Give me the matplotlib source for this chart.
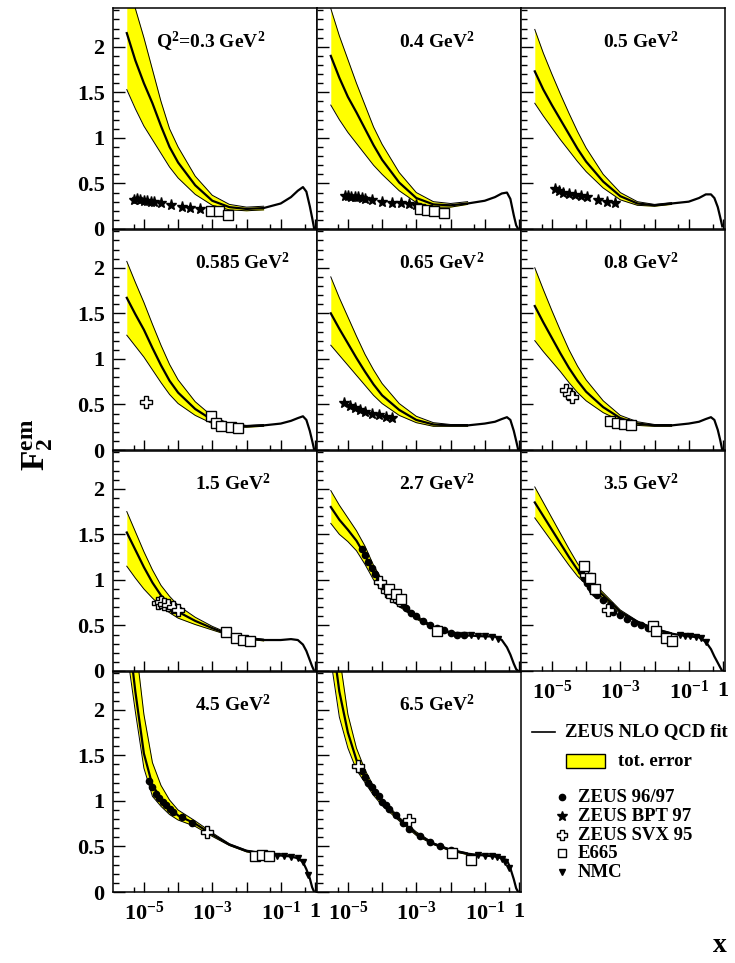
import numpy as np
import matplotlib
matplotlib.use("Agg")
import matplotlib.pyplot as plt
from matplotlib.ticker import FixedLocator, FixedFormatter, NullFormatter
from matplotlib.patches import Rectangle

plt.rcParams["font.family"] = "Liberation Serif"
plt.rcParams["font.weight"] = "bold"
plt.rcParams["mathtext.fontset"] = "custom"
plt.rcParams["mathtext.rm"] = "Liberation Serif:bold"
plt.rcParams["mathtext.it"] = "Liberation Serif:bold"
plt.rcParams["mathtext.bf"] = "Liberation Serif:bold"

# ----------------------------- DATA -----------------------------
Q2 = ["0.3", "0.4", "0.5", "0.585", "0.65", "0.8", "1.5", "2.7", "3.5", "4.5", "6.5"]

# NLO QCD fit, log10(x) nodes
FIT_LOGX = [-5.5, -5.25, -5.0, -4.75, -4.5, -4.25, -4.0, -3.5, -3.0, -2.5,
            -2.0, -1.5, -1.0, -0.7, -0.5, -0.35, -0.25, -0.15, -0.08, -0.02]
FIT = {
    "0.3":   [2.15, 1.85, 1.60, 1.38, 1.13, 0.90, 0.73, 0.48, 0.31, 0.24, 0.22, 0.23, 0.28, 0.35, 0.42, 0.46, 0.41, 0.25, 0.12, 0.0],
    "0.4":   [1.90, 1.66, 1.45, 1.28, 1.10, 0.92, 0.76, 0.51, 0.34, 0.27, 0.26, 0.28, 0.31, 0.35, 0.39, 0.40, 0.33, 0.15, 0.04, 0.0],
    "0.5":   [1.73, 1.53, 1.36, 1.20, 1.04, 0.88, 0.74, 0.52, 0.36, 0.28, 0.26, 0.28, 0.30, 0.34, 0.38, 0.38, 0.34, 0.24, 0.13, 0.03],
    "0.585": [1.67, 1.49, 1.32, 1.12, 0.93, 0.76, 0.63, 0.45, 0.33, 0.27, 0.26, 0.27, 0.29, 0.32, 0.35, 0.37, 0.33, 0.21, 0.10, 0.0],
    "0.65":  [1.50, 1.33, 1.17, 1.01, 0.86, 0.72, 0.60, 0.44, 0.33, 0.28, 0.27, 0.27, 0.29, 0.31, 0.34, 0.36, 0.33, 0.21, 0.10, 0.0],
    "0.8":   [1.58, 1.40, 1.23, 1.06, 0.90, 0.76, 0.64, 0.47, 0.35, 0.29, 0.27, 0.27, 0.29, 0.31, 0.34, 0.36, 0.33, 0.22, 0.11, 0.0],
    "1.5":   [1.52, 1.33, 1.14, 0.97, 0.83, 0.73, 0.65, 0.55, 0.47, 0.40, 0.36, 0.34, 0.34, 0.35, 0.34, 0.29, 0.22, 0.12, 0.05, 0.0],
    "2.7":   [1.80, 1.66, 1.55, 1.43, 1.27, 1.08, 0.94, 0.74, 0.59, 0.48, 0.42, 0.39, 0.38, 0.38, 0.34, 0.26, 0.18, 0.08, 0.02, 0.0],
    "3.5":   [1.85, 1.70, 1.55, 1.40, 1.25, 1.11, 1.00, 0.83, 0.65, 0.54, 0.46, 0.41, 0.38, 0.37, 0.32, 0.24, 0.16, 0.09, 0.04, 0.0],
    "4.5":   [3.00, 2.20, 1.52, 1.17, 1.03, 0.92, 0.84, 0.75, 0.63, 0.52, 0.45, 0.42, 0.40, 0.39, 0.37, 0.33, 0.25, 0.15, 0.05, 0.0],
    "6.5":   [2.90, 2.20, 1.75, 1.45, 1.27, 1.11, 0.99, 0.80, 0.64, 0.53, 0.46, 0.42, 0.40, 0.39, 0.37, 0.35, 0.26, 0.14, 0.04, 0.0],
}

# total error band of the fit
BAND_LOGX = [-5.5, -5.25, -5.0, -4.75, -4.5, -4.25, -4.0, -3.5, -3.0, -2.5, -2.0, -1.5]
BAND_UP = {
    "0.3":   [2.80, 2.42, 2.10, 1.75, 1.40, 1.10, 0.90, 0.58, 0.37, 0.27, 0.24, 0.25],
    "0.4":   [2.42, 2.12, 1.86, 1.60, 1.36, 1.12, 0.93, 0.62, 0.40, 0.30, 0.28, 0.30],
    "0.5":   [2.19, 1.93, 1.70, 1.48, 1.27, 1.07, 0.89, 0.60, 0.40, 0.30, 0.27, 0.29],
    "0.585": [2.07, 1.84, 1.62, 1.38, 1.15, 0.94, 0.77, 0.53, 0.37, 0.29, 0.27, 0.28],
    "0.65":  [1.90, 1.67, 1.46, 1.25, 1.05, 0.88, 0.73, 0.51, 0.37, 0.30, 0.28, 0.28],
    "0.8":   [2.00, 1.76, 1.53, 1.31, 1.10, 0.92, 0.77, 0.54, 0.38, 0.31, 0.28, 0.28],
    "1.5":   [1.75, 1.53, 1.31, 1.11, 0.94, 0.82, 0.72, 0.59, 0.49, 0.41, 0.37, 0.35],
    "2.7":   [1.98, 1.82, 1.68, 1.54, 1.37, 1.16, 1.00, 0.77, 0.61, 0.49, 0.43, 0.40],
    "3.5":   [2.02, 1.85, 1.68, 1.51, 1.34, 1.18, 1.05, 0.86, 0.67, 0.55, 0.47, 0.42],
    "4.5":   [3.40, 2.75, 1.95, 1.42, 1.17, 1.01, 0.90, 0.78, 0.65, 0.53, 0.46, 0.43],
    "6.5":   [3.30, 2.60, 1.95, 1.58, 1.34, 1.16, 1.02, 0.82, 0.66, 0.54, 0.47, 0.43],
}
BAND_LO = {
    "0.3":   [1.53, 1.32, 1.13, 0.98, 0.83, 0.68, 0.56, 0.38, 0.26, 0.21, 0.20, 0.21],
    "0.4":   [1.36, 1.20, 1.06, 0.94, 0.82, 0.70, 0.60, 0.42, 0.29, 0.24, 0.24, 0.27],
    "0.5":   [1.38, 1.24, 1.11, 0.98, 0.86, 0.74, 0.63, 0.45, 0.32, 0.26, 0.25, 0.27],
    "0.585": [1.26, 1.14, 1.02, 0.88, 0.74, 0.61, 0.51, 0.38, 0.29, 0.25, 0.25, 0.26],
    "0.65":  [1.15, 1.04, 0.93, 0.82, 0.71, 0.60, 0.51, 0.38, 0.30, 0.26, 0.26, 0.26],
    "0.8":   [1.20, 1.08, 0.97, 0.86, 0.74, 0.63, 0.54, 0.41, 0.32, 0.27, 0.26, 0.26],
    "1.5":   [1.15, 1.02, 0.90, 0.80, 0.71, 0.64, 0.58, 0.51, 0.45, 0.39, 0.35, 0.33],
    "2.7":   [1.62, 1.50, 1.42, 1.32, 1.17, 1.00, 0.88, 0.71, 0.57, 0.47, 0.41, 0.38],
    "3.5":   [1.68, 1.55, 1.42, 1.29, 1.16, 1.04, 0.95, 0.80, 0.63, 0.53, 0.45, 0.40],
    "4.5":   [2.65, 1.98, 1.36, 1.05, 0.94, 0.85, 0.79, 0.72, 0.61, 0.51, 0.44, 0.41],
    "6.5":   [2.55, 1.92, 1.58, 1.34, 1.20, 1.06, 0.95, 0.78, 0.62, 0.52, 0.45, 0.41],
}

# measurements: (log10 x, F2)
ZEUS9697 = {
    "2.7": ([-4.6, -4.5, -4.4, -4.3, -4.2, -4.1, -4.0, -3.9, -3.8, -3.7, -3.6, -3.45, -3.3, -3.15, -3.0, -2.8, -2.6, -2.4, -2.2, -2.0, -1.8, -1.6],
            [1.34, 1.27, 1.20, 1.13, 1.06, 1.00, 0.95, 0.90, 0.86, 0.82, 0.78, 0.74, 0.69, 0.64, 0.60, 0.55, 0.50, 0.47, 0.45, 0.42, 0.40, 0.39]),
    "3.5": ([-4.15, -4.05, -3.97, -3.9, -3.82, -3.75, -3.68, -3.5, -3.3, -3.2, -3.0, -2.8, -2.6, -2.4, -2.2],
            [1.10, 1.02, 0.97, 0.92, 0.89, 0.86, 0.83, 0.78, 0.72, 0.65, 0.61, 0.57, 0.53, 0.50, 0.47]),
    "4.5": ([-4.85, -4.75, -4.65, -4.55, -4.45, -4.35, -4.25, -4.15, -3.9, -3.6],
            [1.22, 1.15, 1.08, 1.03, 0.99, 0.95, 0.91, 0.88, 0.82, 0.76]),
    "6.5": ([-4.6, -4.5, -4.4, -4.3, -4.2, -4.1, -4.0, -3.9, -3.8, -3.6, -3.4, -3.2, -2.9, -2.6, -2.3, -2.0],
            [1.33, 1.26, 1.20, 1.15, 1.10, 1.05, 0.99, 0.95, 0.91, 0.84, 0.76, 0.69, 0.61, 0.55, 0.50, 0.46]),
}
BPT97 = {
    "0.3": ([-5.3, -5.2, -5.1, -5.0, -4.9, -4.8, -4.7, -4.5, -4.2, -3.9, -3.65, -3.35],
            [0.32, 0.33, 0.32, 0.31, 0.31, 0.30, 0.30, 0.29, 0.26, 0.24, 0.23, 0.22]),
    "0.4": ([-5.09, -5.0, -4.9, -4.8, -4.7, -4.6, -4.5, -4.3, -4.0, -3.7, -3.45, -3.2, -3.0],
            [0.36, 0.36, 0.35, 0.35, 0.35, 0.34, 0.33, 0.32, 0.30, 0.29, 0.28, 0.27, 0.26]),
    "0.5": ([-4.91, -4.8, -4.68, -4.5, -4.32, -4.15, -3.97, -3.65, -3.38, -3.15],
            [0.44, 0.42, 0.40, 0.38, 0.37, 0.36, 0.35, 0.32, 0.30, 0.29]),
    "0.65": ([-5.1, -4.95, -4.8, -4.65, -4.5, -4.3, -4.1, -3.9, -3.7],
             [0.52, 0.48, 0.46, 0.44, 0.42, 0.40, 0.38, 0.36, 0.35]),
}
SVX95 = {
    "0.585": ([-4.94], [0.53]),
    "0.8": ([-4.6, -4.5, -4.4], [0.66, 0.62, 0.58]),
    "1.5": ([-4.6, -4.5, -4.4, -4.3, -4.15, -4.0], [0.75, 0.76, 0.74, 0.72, 0.70, 0.67]),
    "2.7": ([-4.05, -3.85, -3.7, -3.5], [0.98, 0.88, 0.82, 0.78]),
    "3.5": ([-4.0, -3.37], [1.05, 0.67]),
    "4.5": ([-3.15], [0.66]),
    "6.5": ([-4.7, -3.2], [1.38, 0.79]),
}
E665 = {
    "0.3": ([-3.03, -2.79, -2.54], [0.20, 0.20, 0.155]),
    "0.4": ([-2.88, -2.68, -2.49, -2.2], [0.22, 0.21, 0.20, 0.175]),
    "0.585": ([-3.03, -2.88, -2.74, -2.44, -2.24], [0.375, 0.30, 0.26, 0.25, 0.24]),
    "0.8": ([-3.3, -3.1, -2.9, -2.7], [0.32, 0.30, 0.28, 0.27]),
    "1.5": ([-2.6, -2.3, -2.1, -1.9], [0.43, 0.36, 0.34, 0.33]),
    "2.7": ([-3.8, -3.6, -3.45, -2.4], [0.90, 0.84, 0.79, 0.44]),
    "3.5": ([-4.05, -3.9, -3.75, -2.05, -1.95, -1.65, -1.5], [1.15, 1.02, 0.90, 0.49, 0.44, 0.36, 0.33]),
    "4.5": ([-1.75, -1.55, -1.35], [0.40, 0.41, 0.40]),
    "6.5": ([-1.97, -1.41], [0.43, 0.35]),
}
NMC = {
    "2.7": ([-1.8, -1.6, -1.4, -1.2, -1.0, -0.8, -0.6], [0.40, 0.39, 0.39, 0.38, 0.38, 0.37, 0.35]),
    "3.5": ([-1.25, -1.1, -0.95, -0.8, -0.65, -0.5], [0.39, 0.38, 0.38, 0.37, 0.36, 0.32]),
    "4.5": ([-1.3, -1.1, -0.9, -0.7, -0.5, -0.35, -0.2], [0.40, 0.39, 0.39, 0.38, 0.37, 0.33, 0.19]),
    "6.5": ([-1.2, -1.0, -0.8, -0.65, -0.5, -0.4, -0.28], [0.41, 0.40, 0.39, 0.38, 0.36, 0.33, 0.26]),
}

XTICKS = [1e-5, 1e-4, 1e-3, 1e-2, 1e-1, 1.0]
XTICK_LABELS = ["$10^{-5}$", "", "$10^{-3}$", "", "$10^{-1}$", "1"]
YTICKS = [0, 0.5, 1, 1.5, 2]
YTICK_LABELS = ["0", "0.5", "1", "1.5", "2"]
# ------------------------------------------------------------------

W, H = 735, 963
COL_LEFT = [113, 317, 521]
ROW_BOTTOM = [229, 450, 671, 892]
PANEL_W, PANEL_H = 204, 220.5

fig = plt.figure(figsize=(W / 100, H / 100), dpi=100)


def style_axes(ax, show_x, show_y):
    ax.set_xscale("log")
    ax.set_xlim(1.25e-6, 1.15)
    ax.set_ylim(0, 2.42)
    ax.xaxis.set_major_locator(FixedLocator(XTICKS))
    ax.xaxis.set_minor_locator(FixedLocator([5e-6, 5e-5, 5e-4, 5e-3, 5e-2, 5e-1]))
    ax.xaxis.set_minor_formatter(NullFormatter())
    ax.yaxis.set_major_locator(FixedLocator(YTICKS))
    ax.yaxis.set_minor_locator(FixedLocator(np.arange(0.1, 2.41, 0.1)))
    ax.tick_params(which="both", direction="in", top=False, right=False, width=1.0)
    ax.tick_params(axis="y", which="major", length=8.5)
    ax.tick_params(axis="y", which="minor", length=4.3)
    ax.tick_params(axis="x", which="major", length=7)
    ax.tick_params(axis="x", which="minor", length=3.6)
    ax.tick_params(axis="both", labelsize=16)
    ax.tick_params(axis="x", pad=7)
    if show_x:
        ax.xaxis.set_major_formatter(FixedFormatter(XTICK_LABELS))
    else:
        ax.xaxis.set_major_formatter(NullFormatter())
    if show_y:
        ax.yaxis.set_major_formatter(FixedFormatter(YTICK_LABELS))
        ax.tick_params(axis="y", pad=6)
    else:
        ax.yaxis.set_major_formatter(NullFormatter())
    for sp in ax.spines.values():
        sp.set_linewidth(1.1)


for i, q in enumerate(Q2):
    row, col = divmod(i, 3)
    left = COL_LEFT[col]
    bottom = ROW_BOTTOM[row]
    ax = fig.add_axes([left / W, 1 - bottom / H, PANEL_W / W, PANEL_H / H])
    show_x = row == 3 or (row == 2 and col == 2)
    style_axes(ax, show_x, col == 0)

    bx = 10 ** np.array(BAND_LOGX)
    ax.fill_between(bx, BAND_LO[q], BAND_UP[q], color="#ffff00", lw=0, zorder=1)
    ax.plot(bx, BAND_UP[q], color="black", lw=0.7, zorder=2)
    ax.plot(bx, BAND_LO[q], color="black", lw=0.7, zorder=2)
    ax.plot(10 ** np.array(FIT_LOGX), FIT[q], color="black", lw=1.6, zorder=3)

    if q in ZEUS9697:
        lx, f = ZEUS9697[q]
        ax.plot(10 ** np.array(lx), f, "o", ms=4.5, color="black", zorder=4)
    if q in BPT97:
        lx, f = BPT97[q]
        ax.plot(10 ** np.array(lx), f, "*", ms=8, color="black", zorder=4)
    if q in SVX95:
        lx, f = SVX95[q]
        ax.plot(10 ** np.array(lx), f, "P", ms=9, mfc="white", mec="black", mew=1.0, zorder=5)
    if q in E665:
        lx, f = E665[q]
        ax.plot(10 ** np.array(lx), f, "s", ms=7, mfc="white", mec="black", mew=1.0, zorder=5)
    if q in NMC:
        lx, f = NMC[q]
        ax.plot(10 ** np.array(lx), f, "v", ms=5, color="black", zorder=4)

    label = (r"Q$^2$=" if i == 0 else "") + q + r" GeV$^2$"
    ax.text(0.21 if i == 0 else 0.40, 0.85, label, transform=ax.transAxes,
            fontsize=14, fontweight="bold", va="center", ha="left")

# axis titles
fig.text(38 / W, 1 - 445 / H, r"$\mathbf{F_2^{em}}$", fontsize=24,
         rotation=90, ha="center", va="center")
fig.text(720 / W, 1 - 945 / H, "x", fontsize=20, fontweight="bold",
         ha="center", va="center")

# legend, laid out in pixel units in the free bottom-right cell
leg = fig.add_axes([521 / W, 0, (W - 521) / W, (H - 671) / H])
leg.set_xlim(521, W)
leg.set_ylim(H, 671)
leg.axis("off")
leg.plot([532, 555], [732, 732], color="black", lw=1.2)
leg.text(565, 732, "ZEUS NLO QCD fit", fontsize=13.5, va="center")
leg.add_patch(Rectangle((566, 754), 39, 14, facecolor="#ffff00", edgecolor="black", lw=1))
leg.text(618, 761, "tot. error", fontsize=13.5, va="center")
leg.plot(562, 797, "o", ms=4.5, color="black")
leg.plot(562, 816, "*", ms=7, color="black")
leg.plot(562, 835, "P", ms=7, mfc="white", mec="black", mew=1)
leg.plot(562, 853, "s", ms=6, mfc="white", mec="black", mew=1)
leg.plot(562, 872, "v", ms=5, color="black")
for y, t in zip([797, 816, 835, 853, 872],
                ["ZEUS 96/97", "ZEUS BPT 97", "ZEUS SVX 95", "E665", "NMC"]):
    leg.text(578, y, t, fontsize=13.5, va="center")

fig.savefig("out.png", dpi=100)
